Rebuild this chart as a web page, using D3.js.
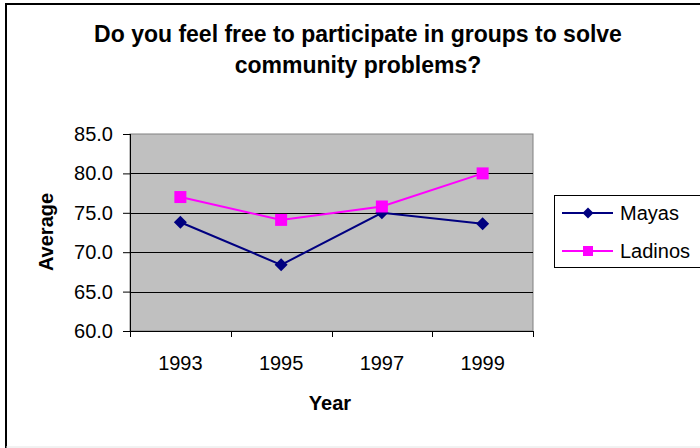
<!DOCTYPE html>
<html>
<head>
<meta charset="utf-8">
<script src="https://cdn.jsdelivr.net/npm/d3@7/dist/d3.min.js"></script>
<style>
  html, body { margin: 0; padding: 0; background: #fff; }
  svg { display: block; font-family: Arial, "Liberation Sans", sans-serif; }
</style>
</head>
<body>
<svg id="chart" width="700" height="448"></svg>
<script>
// Survey averages by year
const years = ["1993", "1995", "1997", "1999"];
const mayas = [73.8, 68.4, 75.0, 73.6];
const ladinos = [77.0, 74.1, 75.8, 80.0];
const yTicks = [60, 65, 70, 75, 80, 85];
const titleLines = ["Do you feel free to participate in groups to solve", "community problems?"];

const series = [
  { name: "Mayas", values: mayas, color: "#000080", marker: "diamond" },
  { name: "Ladinos", values: ladinos, color: "#FF00FF", marker: "square" }
];

const svg = d3.select("#chart");
const plot = { left: 130, right: 533, top: 134, bottom: 331 };

// Outer chart frame (cut off on the right)
svg.append("path").attr("d", "M6,448 L6,4 L700,4")
  .attr("fill", "none").attr("stroke", "#000").attr("stroke-width", 2);
svg.append("line").attr("x1", 6).attr("x2", 700).attr("y1", 447).attr("y2", 447)
  .attr("stroke", "#e4e4e4").attr("stroke-width", 1);

// Title
svg.append("g").selectAll("text").data(titleLines).join("text")
  .attr("x", 358).attr("y", (d, i) => 42 + i * 31)
  .attr("text-anchor", "middle")
  .attr("font-size", 23).attr("font-weight", "bold")
  .text(d => d);

const x = d3.scaleBand().domain(years).range([plot.left, plot.right]).padding(0);
const y = d3.scaleLinear().domain([60, 85]).range([plot.bottom, plot.top]);

// Plot background
svg.append("rect")
  .attr("x", plot.left).attr("y", plot.top)
  .attr("width", plot.right - plot.left).attr("height", plot.bottom - plot.top)
  .attr("fill", "#C0C0C0").attr("stroke", "#808080").attr("stroke-width", 1);

// Gridlines
svg.append("g").selectAll("line").data(yTicks.filter(v => v > 60 && v < 85)).join("line")
  .attr("x1", plot.left).attr("x2", plot.right)
  .attr("y1", d => Math.round(y(d)) + 0.5).attr("y2", d => Math.round(y(d)) + 0.5)
  .attr("stroke", "#000").attr("stroke-width", 1);

// Y axis
const yAxis = svg.append("g").attr("transform", `translate(${plot.left},0)`)
  .call(d3.axisLeft(y).tickValues(yTicks).tickFormat(d3.format(".1f")).tickSize(7).tickPadding(10));
yAxis.selectAll("text").attr("font-size", 20).attr("fill", "#000").attr("font-family", "Arial, 'Liberation Sans', sans-serif");
yAxis.selectAll("line, path").attr("stroke", "#000");
yAxis.select(".domain").attr("d", `M0.5,${plot.bottom}V${plot.top}`);

// X axis with ticks at category boundaries
const xg = svg.append("g").attr("transform", `translate(0,${plot.bottom})`);
xg.append("line").attr("x1", plot.left).attr("x2", plot.right).attr("y1", 0.5).attr("y2", 0.5).attr("stroke", "#000");
const bounds = years.map(d => x(d)).concat([plot.right]);
xg.selectAll("line.tick").data(bounds).join("line").attr("class", "tick")
  .attr("x1", d => Math.round(d) + 0.5).attr("x2", d => Math.round(d) + 0.5)
  .attr("y1", 0).attr("y2", 6).attr("stroke", "#000");
xg.selectAll("text").data(years).join("text")
  .attr("x", d => x(d) + x.bandwidth() / 2).attr("y", 39)
  .attr("text-anchor", "middle").attr("font-size", 20)
  .text(d => d);

// Axis titles
svg.append("text").attr("x", 330).attr("y", 410).attr("text-anchor", "middle")
  .attr("font-size", 20).attr("font-weight", "bold").text("Year");
svg.append("text").attr("transform", "translate(53,232) rotate(-90)")
  .attr("text-anchor", "middle").attr("font-size", 20).attr("font-weight", "bold").text("Average");

// Marker shapes
function markerPath(type, size) {
  const h = size / 2;
  if (type === "diamond") return `M0,${-h}L${h},0L0,${h}L${-h},0Z`;
  return `M${-h},${-h}H${h}V${h}H${-h}Z`;
}

const cx = d => x(d) + x.bandwidth() / 2;
const line = d3.line().x((v, i) => cx(years[i])).y(v => y(v));

series.forEach(s => {
  svg.append("path").datum(s.values)
    .attr("d", line).attr("fill", "none").attr("stroke", s.color).attr("stroke-width", 2);
  svg.append("g").selectAll("path").data(s.values).join("path")
    .attr("transform", (v, i) => `translate(${cx(years[i])},${y(v)})`)
    .attr("d", markerPath(s.marker, s.marker === "diamond" ? 13 : 12))
    .attr("fill", s.color);
});

// Legend
const lg = svg.append("g");
lg.append("rect").attr("x", 554.5).attr("y", 195.5).attr("width", 160).attr("height", 72)
  .attr("fill", "#fff").attr("stroke", "#000").attr("stroke-width", 1);
series.forEach((s, i) => {
  const ly = 213 + i * 38;
  lg.append("line").attr("x1", 562).attr("x2", 613).attr("y1", ly).attr("y2", ly)
    .attr("stroke", s.color).attr("stroke-width", 2);
  lg.append("path").attr("transform", `translate(588,${ly})`)
    .attr("d", markerPath(s.marker, s.marker === "diamond" ? 11 : 10)).attr("fill", s.color);
  lg.append("text").attr("x", 620).attr("y", ly + 7).attr("font-size", 20).text(s.name);
});
</script>
</body>
</html>
